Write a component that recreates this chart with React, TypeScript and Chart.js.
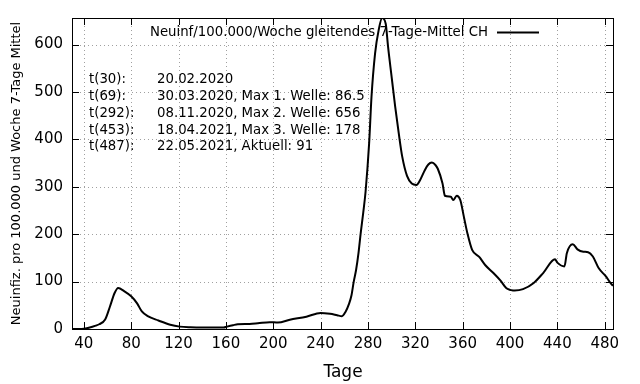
import React, { useEffect, useRef } from "react";
import { Chart, registerables } from "chart.js";

Chart.register(...registerables);

// Day index (t) and 7-day rolling value per 100'000 per week
const days = [
  30, 36, 40, 45, 50, 53, 58, 62, 66, 69, 74, 80, 85, 89, 94, 103, 113, 121, 130, 141,
  158, 161, 166, 170, 180, 187, 197, 204, 214, 228, 240, 248, 254, 258, 261, 264, 266,
  268, 270, 272, 274, 276, 278, 281, 283, 286, 289, 292, 295, 297, 300, 303, 306, 309, 313, 317,
  321, 324, 328, 331, 334, 337, 339, 343, 345, 350, 352, 355, 358, 361, 364, 368, 374,
  379, 386, 392, 397, 401, 404, 411, 420, 428, 438, 440, 446, 448, 453, 457, 462, 466,
  470, 475, 481, 484, 487,
];
const values = [
  0, 0, 0.5, 3, 7, 10, 20, 47, 76, 86.5, 80, 69, 54, 37, 27, 18, 9, 5, 3.5, 3,
  3, 5, 8, 10, 10.5, 12, 14.5, 13.5, 19.5, 26, 34, 32, 29, 27, 36, 53, 70,
  100, 125, 160, 205, 245, 290, 392, 490, 581, 630, 656, 644, 595, 532, 469, 413, 363, 323, 307,
  304, 314, 335, 347, 351, 346, 338, 307, 281, 279, 272, 281, 272, 237, 202, 167, 152,
  135, 118, 102, 86, 82, 81, 84, 97, 118, 147, 140, 132, 160, 179, 168, 163, 162,
  153, 128, 111, 100, 91,
];

const xTicks = [40, 80, 120, 160, 200, 240, 280, 320, 360, 400, 440, 480];
const yTicks = [0, 100, 200, 300, 400, 500, 600];
const xMin = 30;
const xMax = 487;
const yMin = 0;
const yMax = 656;

const legendLabel = "Neuinf/100.000/Woche gleitendes 7-Tage-Mittel CH";
const infoKeys = ["t(30):", "t(69):", "t(292):", "t(453):", "t(487):"];
const infoTexts = [
  "20.02.2020",
  "30.03.2020, Max 1. Welle: 86.5",
  "08.11.2020, Max 2. Welle: 656",
  "18.04.2021, Max 3. Welle: 178",
  "22.05.2021, Aktuell: 91",
];
const xTitle = "Tage";
const yTitle = "Neuinfiz. pro 100.000 und Woche 7-Tage Mittel";

const FONT = "'DejaVu Sans', sans-serif";

const framePlugin = {
  id: "gnuplotFrame",
  beforeDatasetsDraw(chart: any) {
    const { ctx, chartArea: a, scales } = chart;
    const xs = scales.x;
    const ys = scales.y;
    ctx.save();
    ctx.strokeStyle = "#a0a0a0";
    ctx.lineWidth = 1;
    ctx.setLineDash([1, 3]);
    xTicks.forEach((v) => {
      const px = Math.round(xs.getPixelForValue(v)) + 0.5;
      ctx.beginPath();
      ctx.moveTo(px, a.top);
      ctx.lineTo(px, a.bottom);
      ctx.stroke();
    });
    yTicks.forEach((v) => {
      const py = Math.round(ys.getPixelForValue(v)) + 0.5;
      ctx.beginPath();
      ctx.moveTo(a.left, py);
      ctx.lineTo(a.right, py);
      ctx.stroke();
    });
    ctx.restore();
  },
  afterDatasetsDraw(chart: any) {
    const { ctx, chartArea: a, scales } = chart;
    const xs = scales.x;
    const ys = scales.y;
    const tl = 7;
    ctx.save();
    ctx.strokeStyle = "#000";
    ctx.lineWidth = 1;
    ctx.setLineDash([]);
    xTicks.forEach((v) => {
      const px = Math.round(xs.getPixelForValue(v)) + 0.5;
      ctx.beginPath();
      ctx.moveTo(px, a.bottom);
      ctx.lineTo(px, a.bottom - tl);
      ctx.moveTo(px, a.top);
      ctx.lineTo(px, a.top + tl);
      ctx.stroke();
    });
    yTicks.forEach((v) => {
      const py = Math.round(ys.getPixelForValue(v)) + 0.5;
      ctx.beginPath();
      ctx.moveTo(a.left, py);
      ctx.lineTo(a.left + tl, py);
      ctx.moveTo(a.right, py);
      ctx.lineTo(a.right - tl, py);
      ctx.stroke();
    });
    ctx.strokeRect(
      Math.round(a.left) + 0.5,
      Math.round(a.top) + 0.5,
      Math.round(a.right - a.left),
      Math.round(a.bottom - a.top)
    );

    // legend
    ctx.fillStyle = "#000";
    ctx.font = `13.3px ${FONT}`;
    ctx.textAlign = "right";
    ctx.textBaseline = "middle";
    ctx.fillText(legendLabel, 488, 33);
    ctx.lineWidth = 2;
    ctx.beginPath();
    ctx.moveTo(497, 32.5);
    ctx.lineTo(539, 32.5);
    ctx.stroke();

    // info block
    ctx.textAlign = "left";
    infoKeys.forEach((k, i) => {
      const y = 80 + i * 16.7;
      ctx.fillText(k, 89, y);
      ctx.fillText(infoTexts[i], 157, y);
    });

    // axis titles
    ctx.font = `17px ${FONT}`;
    ctx.textAlign = "center";
    ctx.textBaseline = "alphabetic";
    ctx.fillText(xTitle, 343, 377);

    ctx.font = `13px ${FONT}`;
    ctx.translate(20, (a.top + a.bottom) / 2);
    ctx.rotate(-Math.PI / 2);
    ctx.textAlign = "center";
    ctx.textBaseline = "alphabetic";
    ctx.fillText(yTitle, 0, 0);
    ctx.restore();
  },
};

export default function App() {
  const ref = useRef<HTMLCanvasElement | null>(null);

  useEffect(() => {
    if (!ref.current) return;
    const chart = new Chart(ref.current, {
      type: "line",
      data: {
        datasets: [
          {
            label: legendLabel,
            data: days.map((d, i) => ({ x: d, y: values[i] })),
            borderColor: "#000",
            borderWidth: 2,
            pointRadius: 0,
            fill: false,
            cubicInterpolationMode: "monotone",
          },
        ],
      },
      options: {
        responsive: false,
        animation: false,
        layout: { padding: { left: 0, top: 17, right: 27, bottom: 0 } },
        plugins: {
          legend: { display: false },
          tooltip: { enabled: false },
        },
        scales: {
          x: {
            type: "linear",
            min: xMin,
            max: xMax,
            afterBuildTicks: (s: any) => {
              s.ticks = xTicks.map((v) => ({ value: v }));
            },
            afterFit: (s: any) => {
              s.height = 55;
            },
            grid: { display: false, drawTicks: false },
            border: { display: false },
            ticks: {
              color: "#000",
              font: { family: FONT, size: 15 },
              padding: 6,
              maxRotation: 0,
              autoSkip: false,
            },
          },
          y: {
            type: "linear",
            min: yMin,
            max: yMax,
            afterBuildTicks: (s: any) => {
              s.ticks = yTicks.map((v) => ({ value: v }));
            },
            afterFit: (s: any) => {
              s.width = 72;
            },
            grid: { display: false, drawTicks: false },
            border: { display: false },
            ticks: {
              color: "#000",
              font: { family: FONT, size: 15 },
              padding: 9,
              autoSkip: false,
            },
          },
        },
      },
      plugins: [framePlugin],
    } as any);
    return () => chart.destroy();
  }, []);

  return (
    <div style={{ position: "absolute", left: 0, top: 0, width: 640, height: 384, background: "#fff" }}>
      <canvas ref={ref} width={640} height={384} style={{ display: "block" }} />
    </div>
  );
}
